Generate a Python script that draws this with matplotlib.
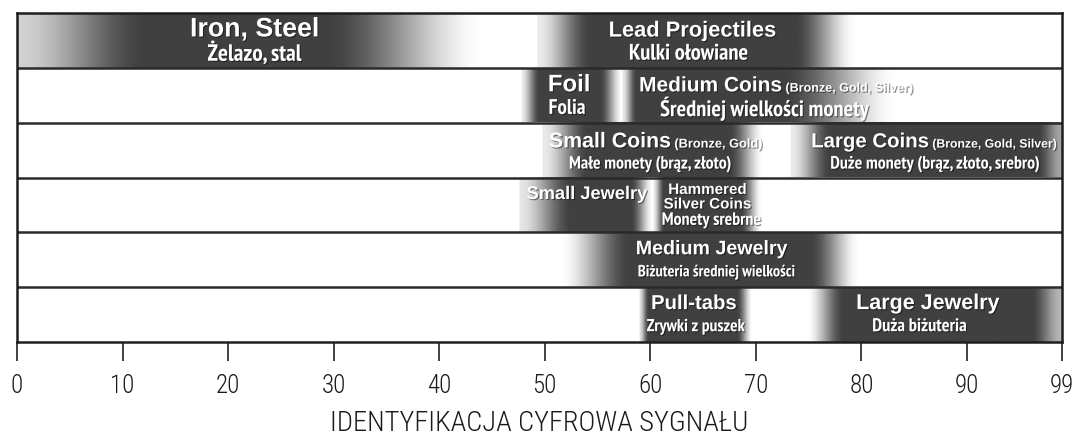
import numpy as np
import matplotlib
matplotlib.use("Agg")
import matplotlib.pyplot as plt
import matplotlib.patheffects as pe

# ---------------- data ----------------
rows = [0, 0, 1, 1, 2, 2, 3, 3, 4, 5, 5]
titles = ["Iron, Steel", "Lead Projectiles", "Foil", "Medium Coins", "Small Coins",
          "Large Coins", "Small Jewelry", "Hammered\nSilver Coins", "Medium Jewelry",
          "Pull-tabs", "Large Jewelry"]
title_notes = ["", "", "", "(Bronze, Gold, Silver)", "(Bronze, Gold)",
               "(Bronze, Gold, Silver)", "", "", "", "", ""]
subtitles = ["Żelazo, stal", "Kulki ołowiane", "Folia", "Średniej wielkości monety",
             "Małe monety (brąz, złoto)", "Duże monety (brąz, złoto, srebro)", "",
             "Monety srebrne", "Biżuteria średniej wielkości", "Zrywki z puszek",
             "Duża biżuteria"]
starts = [0.0, 49.3, 47.8, 57.4, 49.8, 73.3, 47.6, 60.3, 51.4, 59.0, 74.8]
ends = [44.5, 79.6, 57.4, 83.6, 70.8, 99.0, 60.3, 70.6, 79.9, 69.7, 99.0]
tick_values = [0, 10, 20, 30, 40, 50, 60, 70, 80, 90, 99]
x_label = "IDENTYFIKACJA CYFROWA SYGNAŁU"

# ---------------- style ----------------
# gradient profile: (dark_lo_frac, dark_hi_frac, left_edge_brightness, right_edge_brightness)
profiles = [(0.28, 0.65, 0.82, 1.0), (0.17, 0.80, 0.92, 1.0), (0.18, 0.77, 0.92, 1.0),
            (0.05, 0.57, 0.9, 1.0), (0.21, 0.84, 0.92, 1.0), (0.15, 0.91, 0.92, 0.65),
            (0.40, 0.83, 0.9, 1.0), (0.10, 0.80, 0.92, 1.0), (0.24, 0.83, 1.0, 1.0),
            (0.08, 0.86, 0.88, 1.0), (0.15, 0.88, 1.0, 0.72)]
dark_level = 0.25
title_x = [22.5, 64.0, 52.3, 71.9, 60.5, 86.9, 54.0, 65.4, 65.8, 64.1, 86.3]
sub_x = [22.5, 63.6, 52.1, 70.8, 60.0, 87.0, 0, 65.8, 66.3, 64.3, 85.5]
title_fy = [0.30, 0.33, 0.31, 0.33, 0.35, 0.35, 0.31, 0.36, 0.30, 0.30, 0.30]
sub_fy = [0.75, 0.75, 0.74, 0.74, 0.76, 0.76, 0, 0.79, 0.73, 0.73, 0.73]
title_w = [129, 167, 42, 274, 213, 246, 120, 87, 151, 85, 143]     # target widths, px
sub_w = [94, 119, 37, 208, 162, 209, 0, 99, 157, 98, 94]
note_ratio = 0.6

TITLE_FONT = ["Liberation Sans", "DejaVu Sans"]
SUB_FONT = ["PT Sans Narrow", "Liberation Sans", "DejaVu Sans"]
AXIS_FONT = ["Roboto Condensed", "Liberation Sans", "DejaVu Sans"]

W, H, DPI = 10.74, 4.37, 100
fig = plt.figure(figsize=(W, H), dpi=DPI)
ax = fig.add_axes([17 / 1074, 1 - 342 / 437, (1062 - 17) / 1074, (342 - 13) / 437])
nrows = 6
ax.set_xlim(0, 99)
ax.set_ylim(0, nrows)


def smooth(t):
    t = np.clip(t, 0, 1)
    return t * t * (3 - 2 * t)


xs = np.linspace(0, 99, 2400)
for r in range(nrows):
    bright = np.ones_like(xs)
    for i, rr in enumerate(rows):
        if rr != r:
            continue
        s, e = starts[i], ends[i]
        lo, hi, le, re = profiles[i]
        t = (xs - s) / (e - s)
        b = np.ones_like(xs)
        inside = (xs >= s) & (xs <= e)
        left = inside & (t < lo)
        mid = inside & (t >= lo) & (t <= hi)
        right = inside & (t > hi)
        b[left] = le + (dark_level - le) * smooth(t[left] / lo)
        b[mid] = dark_level
        b[right] = dark_level + (re - dark_level) * smooth((t[right] - hi) / (1 - hi))
        bright = np.minimum(bright, b)
    img = np.tile(bright, (2, 1))
    ytop = nrows - r
    ax.imshow(img, cmap="gray", vmin=0, vmax=1, aspect="auto",
              extent=[0, 99, ytop - 1, ytop], interpolation="bilinear", zorder=1)

for r in range(1, nrows):
    ax.axhline(r, color="#2a2a2a", lw=1.8, zorder=3)
for sp in ax.spines.values():
    sp.set_color("#1e1e1e")
    sp.set_linewidth(1.8)
    sp.set_zorder(4)

shadow = [pe.withSimplePatchShadow(offset=(0.8, -0.8), shadow_rgbFace="#000000", alpha=0.45)]

fig.canvas.draw()
renderer = fig.canvas.get_renderer()
ax_px = ax.get_window_extent(renderer).width


def wpx(artist):
    return artist.get_window_extent(renderer).width


base = 12.0
for i, r in enumerate(rows):
    ytop = nrows - r
    ty = ytop - title_fy[i]
    ls = 1.05 if "\n" in titles[i] else 1.2
    t = ax.text(title_x[i], ty, titles[i], ha="center", va="center", color="white",
                fontsize=base, fontweight="bold", family=TITLE_FONT,
                linespacing=ls, zorder=5, path_effects=shadow)
    if title_notes[i]:
        n = ax.text(0, ty, " " + title_notes[i], ha="left", va="center", color="white",
                    fontsize=base * note_ratio, fontweight="bold", family=TITLE_FONT,
                    zorder=5, path_effects=shadow)
        k = title_w[i] / (wpx(t) + wpx(n))
        t.set_fontsize(base * k)
        n.set_fontsize(base * note_ratio * k)
        wt = wpx(t) / ax_px * 99
        wn = wpx(n) / ax_px * 99
        left = title_x[i] - (wt + wn) / 2
        t.set_ha("left")
        t.set_x(left)
        n.set_x(left + wt)
        n.set_y(ty - 0.05)
    else:
        t.set_fontsize(base * title_w[i] / wpx(t))
    if subtitles[i]:
        s = ax.text(sub_x[i], ytop - sub_fy[i], subtitles[i], ha="center", va="center",
                    color="white", fontsize=base, fontweight="bold", family=SUB_FONT,
                    zorder=5, path_effects=shadow)
        s.set_fontsize(base * sub_w[i] / wpx(s))

ax.set_yticks([])
ax.set_xticks(tick_values)
ax.set_xticklabels([str(v) for v in tick_values], family=AXIS_FONT, fontsize=18,
                   fontweight="light", color="#1a1a1a")
ax.tick_params(axis="x", length=14, width=1.2, color="#222222", pad=9)
ax.set_xlabel(x_label, family=AXIS_FONT, fontsize=20.5, fontweight="light",
              color="#1a1a1a", labelpad=9)

fig.savefig("out.png", dpi=DPI)
